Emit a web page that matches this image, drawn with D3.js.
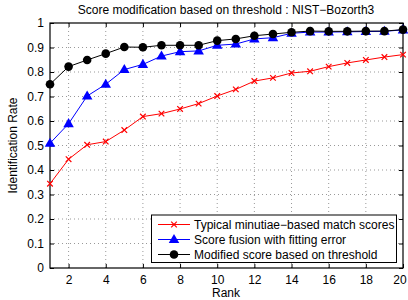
<!DOCTYPE html>
<html><head><meta charset="utf-8">
<script src="https://cdn.jsdelivr.net/npm/d3@7"></script>
<style>body{margin:0;background:#fff}svg{display:block;font-family:"Liberation Sans",Arial,sans-serif}</style>
</head><body><svg id="c" width="408" height="300"></svg>
<script>
const ranks = d3.range(1, 21);
const typical = [0.344,0.444,0.503,0.516,0.563,0.618,0.630,0.649,0.671,0.702,0.729,0.763,0.776,0.796,0.803,0.822,0.837,0.849,0.861,0.871];
const fusion  = [0.509,0.589,0.702,0.750,0.810,0.831,0.865,0.883,0.886,0.909,0.914,0.935,0.940,0.958,0.963,0.963,0.964,0.965,0.966,0.972];
const modified= [0.750,0.822,0.849,0.875,0.902,0.901,0.909,0.909,0.909,0.928,0.935,0.948,0.955,0.962,0.967,0.966,0.966,0.967,0.967,0.973];
const xTicks = [2,4,6,8,10,12,14,16,18,20];
const yTicks = [0,0.1,0.2,0.3,0.4,0.5,0.6,0.7,0.8,0.9,1];
const seriesNames = ["Typical minutiae\u2212based match scores","Score fusion with fitting error","Modified score based on threshold"];

const svg = d3.select("#c");
const L=50,R=403,T=23,B=268;
const x = d3.scaleLinear().domain([1,20]).range([L,R]);
const y = d3.scaleLinear().domain([0,1]).range([B,T]);

// grid
const g = svg.append("g");
g.selectAll(".gx").data(xTicks.filter(d=>d<20)).join("line")
 .attr("x1",d=>x(d)).attr("x2",d=>x(d)).attr("y1",T).attr("y2",B)
 .attr("stroke","#999").attr("stroke-width",1).attr("stroke-dasharray","1,3");
g.selectAll(".gy").data(yTicks.filter(d=>d>0&&d<1)).join("line")
 .attr("y1",d=>y(d)).attr("y2",d=>y(d)).attr("x1",L).attr("x2",R)
 .attr("stroke","#999").attr("stroke-width",1).attr("stroke-dasharray","1,3");

// axes
const xb = svg.append("g").attr("transform",`translate(0,${B})`).call(d3.axisBottom(x).tickValues(xTicks).tickSize(-4).tickPadding(7).tickFormat(d3.format("d")));
const xt = svg.append("g").attr("transform",`translate(0,${T})`).call(d3.axisTop(x).tickValues(xTicks).tickSize(-4).tickFormat(""));
const yl = svg.append("g").attr("transform",`translate(${L},0)`).call(d3.axisLeft(y).tickValues(yTicks).tickSize(-4).tickPadding(6).tickFormat(d=>d===0||d===1?d3.format("d")(d):d3.format(".1f")(d)));
const yr = svg.append("g").attr("transform",`translate(${R},0)`).call(d3.axisRight(y).tickValues(yTicks).tickSize(-4).tickFormat(""));
[xb,xt,yl,yr].forEach(a=>{a.select(".domain").remove();a.selectAll("text").attr("font-size",12).attr("font-family","Liberation Sans, Arial, sans-serif").attr("fill","#000");a.selectAll("line").attr("stroke","#000");});
xb.selectAll(".tick").filter(d=>d===20).select("text").attr("dx",-3.5);
svg.append("rect").attr("x",L).attr("y",T).attr("width",R-L).attr("height",B-T).attr("fill","none").attr("stroke","#000").attr("stroke-width",1.2);

// lines
const line = d3.line().x((d,i)=>x(ranks[i])).y(d=>y(d));
const cols=["#ff0000","#0000ff","#000000"];
[typical,fusion,modified].forEach((s,k)=>{
  svg.append("path").datum(s).attr("d",line).attr("fill","none").attr("stroke",cols[k]).attr("stroke-width",1);
});
function marker(sel,k,cx,cy){
  if(k===0){
    const r=2.8;
    sel.append("path").attr("d",`M${cx-r},${cy-r}L${cx+r},${cy+r}M${cx-r},${cy+r}L${cx+r},${cy-r}`).attr("stroke",cols[0]).attr("stroke-width",1.2);
  } else if(k===1){
    sel.append("path").attr("d",d3.symbol(d3.symbolTriangle,48)()).attr("transform",`translate(${cx},${cy+0.5})`).attr("fill",cols[1]);
  } else {
    sel.append("circle").attr("cx",cx).attr("cy",cy).attr("r",4.3).attr("fill","#000");
  }
}
[typical,fusion,modified].forEach((s,k)=>{
  const mg=svg.append("g");
  s.forEach((v,i)=>marker(mg,k,x(ranks[i]),y(v)));
});

// legend
const lg = svg.append("g");
lg.append("rect").attr("x",151.5).attr("y",215).attr("width",245).attr("height",47.5).attr("fill","#fff").attr("stroke","#000").attr("stroke-width",1);
seriesNames.forEach((n,k)=>{
  const ly=224.5+k*15;
  lg.append("line").attr("x1",158).attr("x2",190).attr("y1",ly).attr("y2",ly).attr("stroke",cols[k]).attr("stroke-width",1);
  marker(lg,k,174,ly);
  lg.append("text").attr("x",194).attr("y",ly+4.2).attr("font-size",12).text(n);
});

// labels
svg.append("text").attr("x",226).attr("y",14).attr("text-anchor","middle").attr("font-size",12).text("Score modification based on threshold : NIST\u2212Bozorth3");
svg.append("text").attr("x",226).attr("y",297).attr("text-anchor","middle").attr("font-size",12).text("Rank");
svg.append("text").attr("transform","translate(17,145.5) rotate(-90)").attr("text-anchor","middle").attr("font-size",12).text("Identification Rate");
</script></body></html>
